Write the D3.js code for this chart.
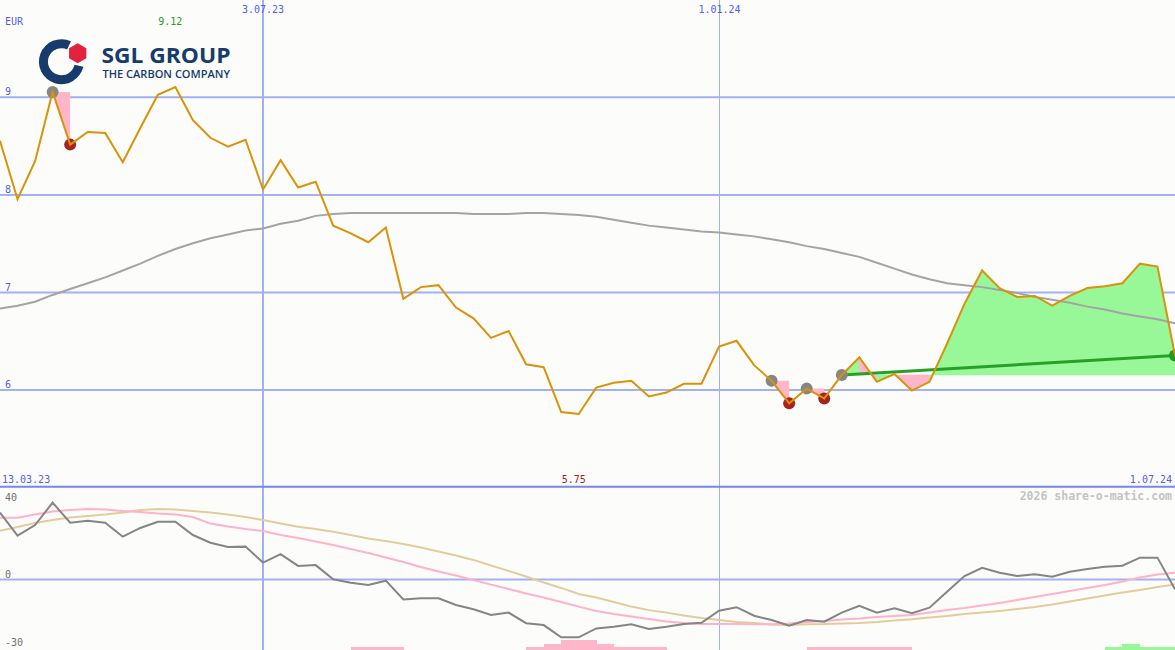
<!DOCTYPE html>
<html><head><meta charset="utf-8">
<script src="https://cdn.jsdelivr.net/npm/d3@7"></script>
<style>html,body{margin:0;padding:0;background:#fcfdfa;overflow:hidden}svg{display:block}</style>
</head><body><svg id="c" width="1175" height="650"></svg>
<script>
// ---------- data ----------
const startDate = "2023-03-20";
const endDate = "2024-07-01";
const currency = "EUR";
const price = [8.55,7.95,8.34,9.05,8.51,8.64,8.63,8.33,8.68,9.02,
 9.10,8.76,8.58,8.49,8.56,8.05,8.35,8.07,8.13,7.68,
 7.60,7.51,7.66,6.93,7.05,7.07,6.84,6.73,6.53,6.60,
 6.26,6.23,5.77,5.75,6.02,6.07,6.09,5.93,5.97,6.06,
 6.06,6.44,6.50,6.25,6.09,5.86,6.01,5.91,6.15,6.33,
 6.08,6.16,5.99,6.08,6.47,6.88,7.22,7.04,6.95,6.96,
 6.86,6.96,7.04,7.06,7.09,7.29,7.26,6.35];
const movingAvg = [6.83,6.86,6.90,6.97,7.03,7.09,7.15,7.22,7.29,7.37,
 7.44,7.50,7.55,7.59,7.63,7.65,7.70,7.73,7.78,7.80,
 7.81,7.81,7.81,7.81,7.81,7.81,7.81,7.80,7.80,7.80,
 7.81,7.81,7.80,7.79,7.77,7.74,7.71,7.68,7.66,7.64,
 7.62,7.61,7.59,7.57,7.54,7.51,7.47,7.44,7.40,7.36,
 7.30,7.24,7.18,7.13,7.09,7.07,7.05,7.02,6.99,6.95,
 6.92,6.89,6.85,6.82,6.78,6.75,6.72,6.68];
const momentum = [32.0,20.9,26.0,36.8,27.1,28.1,27.1,20.4,24.6,27.6,
 27.6,21.2,17.5,15.4,15.6,7.9,12.0,6.3,6.7,-0.1,
 -1.8,-2.9,-0.8,-9.9,-9.3,-9.3,-12.5,-14.6,-17.3,-16.2,
 -21.3,-22.2,-28.1,-28.1,-23.8,-23.0,-21.8,-24.1,-23.0,-21.7,
 -21.1,-15.3,-13.6,-17.7,-19.8,-22.5,-19.8,-20.6,-16.2,-12.9,
 -16.2,-14.1,-16.5,-13.8,-6.1,1.4,5.4,3.0,1.4,2.3,
 1.1,3.5,4.8,5.9,6.4,10.3,10.3,-5.0];
const momAvgFast = [29.5,29.5,31.1,32.5,33.3,33.7,33.5,32.8,32.3,31.6,
 31.1,29.9,26.7,25.3,24.1,23.1,21.2,19.8,18.1,16.4,
 14.5,12.5,10.4,8.2,5.8,3.6,1.7,-0.5,-2.7,-4.8,
 -7.0,-8.9,-11.1,-13.3,-15.4,-16.9,-18.1,-19.3,-20.5,-21.2,
 -21.7,-21.7,-21.7,-21.8,-21.8,-21.4,-20.7,-20.2,-19.5,-19.0,
 -18.3,-17.8,-17.3,-16.1,-14.9,-14.0,-12.8,-11.6,-10.1,-8.7,
 -7.2,-5.8,-4.3,-2.9,-1.2,0.7,2.2,3.0];
const momAvgSlow = [23.3,25.1,27.0,28.4,29.6,30.4,31.1,32.0,33.3,33.7,
 33.5,32.8,32.0,31.1,29.9,28.4,26.7,25.2,24.1,22.8,
 21.2,19.5,18.3,16.9,15.2,13.3,11.3,9.2,6.5,3.9,
 1.2,-1.7,-4.3,-7.2,-8.9,-11.1,-13.3,-15.0,-16.2,-17.6,
 -18.8,-19.8,-20.7,-21.2,-21.9,-22.2,-21.8,-21.7,-21.4,-21.2,
 -20.7,-20.0,-19.4,-18.6,-17.8,-16.9,-16.2,-15.4,-14.5,-13.5,
 -12.3,-10.8,-9.4,-8.0,-6.5,-5.3,-3.9,-2.6];
const signalBars = [0,0,0,0,0,0,0,0,0,0,
 0,0,0,0,0,0,0,0,0,0,
 -1,-1,-1,0,0,0,0,0,0,0,
 -1,-2,-3,-3,-2,-1,-1,-1,0,0,
 0,0,0,0,0,0,-1,-1,-1,-1,
 -1,-1,0,0,0,0,0,0,0,0,
 0,0,0,1,2,1,1,0];
const peakIdx = [3,44,46,48];
const lowIdx = [4,45,47];
const trendIdx = [48,67];
const trendVals = [6.15,6.35];
const priceTicks = [9,8,7,6];
const priceTickLabels = ["9","8","7","6"];
const dateTicks = ["2023-07-03","2024-01-01"];
const dateTickLabels = ["3.07.23","1.01.24"];
const rangeLabels = ["13.03.23","1.07.24"];
const highLabel = "9.12", highIdx = 10;
const lowLabel = "5.75", lowLabelIdx = 33;
const momTicks = [40,0,-30];
const momTickLabels = ["40","0","-30"];
const watermark = "2026 share-o-matic.com";
const logoTitle = "SGL GROUP", logoSub = "THE CARBON COMPANY";

// ---------- layout ----------
const W = 1175, H = 650;
const svg = d3.select('#c');
const parse = d3.timeParse('%Y-%m-%d');
const dates = d3.timeMonday.range(parse(startDate), d3.timeDay.offset(parse(endDate), 1));
const x = d3.scaleTime().domain([parse(startDate), parse(endDate)]).range([0, W]);
const y = d3.scaleLinear().domain([6, 9]).range([389.6, 96.8]);
const ym = d3.scaleLinear().domain([-30, 40]).range([641.25, 496]);
const yb = d3.scaleLinear().domain([0, 3]).range([650, 640.4]);
const FONT = '"DejaVu Sans Mono", monospace';
const BLUE = '#4f5ff0', GRID = '#a3b1f1';
const PINK = '#ffb6c9', GREEN = '#98f898';

svg.append('rect').attr('width', W).attr('height', H).attr('fill', '#fcfdfa');

// horizontal price grid via axis
const gy = svg.append('g').call(d3.axisRight(y).tickValues(priceTicks).tickSize(W).tickFormat((d, i) => priceTickLabels[i]));
gy.select('.domain').remove();
gy.selectAll('line').attr('stroke', GRID).attr('stroke-width', 2);
gy.selectAll('text').attr('x', 5).attr('y', -2).attr('dy', 0).attr('text-anchor', 'start')
  .attr('fill', BLUE).style('font-family', FONT).style('font-size', '10px');

// momentum grid (only 0 line drawn)
const gm = svg.append('g').call(d3.axisRight(ym).tickValues(momTicks).tickSize(W).tickFormat((d, i) => momTickLabels[i]));
gm.select('.domain').remove();
gm.selectAll('line').attr('stroke', d => d === 0 ? GRID : 'none').attr('stroke-width', 2);
gm.selectAll('text').attr('x', 5).attr('y', d => d === 0 ? -2 : 4).attr('dy', 0).attr('text-anchor', 'start')
  .attr('fill', '#707070').style('font-family', FONT).style('font-size', '10px');

// vertical date grid via axis
const gx = svg.append('g').call(d3.axisBottom(x).tickValues(dateTicks.map(parse)).tickSize(H).tickFormat((d, i) => dateTickLabels[i]));
gx.select('.domain').remove();
gx.selectAll('line').attr('stroke', GRID).attr('stroke-width', (d, i) => i === 0 ? 2 : 1);
gx.selectAll('.tick').attr('transform', (d, i) => `translate(${Math.round(x(d)) + (i === 0 ? 0 : 0.5)},0)`);
gx.selectAll('text').attr('y', 13).attr('dy', 0).attr('fill', BLUE).style('font-family', FONT).style('font-size', '10px');

// panel separator
svg.append('line').attr('x1', 0).attr('x2', W).attr('y1', 486.7).attr('y2', 486.7).attr('stroke', '#7886ec').attr('stroke-width', 2);

// bottom signal bars
const barG = svg.append('g').attr('shape-rendering', 'crispEdges');
signalBars.forEach((v, i) => {
  if (!v) return;
  const n = Math.abs(v);
  for (let k = 1; k <= n; k++) {
    barG.append('rect').attr('x', x(dates[i])).attr('width', x(dates[i + 1]) - x(dates[i]) + 0.5)
      .attr('y', yb(k)).attr('height', yb(k - 1) - yb(k) + 0.5)
      .attr('fill', v > 0 ? GREEN : PINK);
  }
});

// momentum lines
const lm = (arr) => d3.line().x((d, i) => x(dates[i])).y(d => ym(d))(arr);
svg.append('path').attr('d', lm(momAvgSlow)).attr('fill', 'none').attr('stroke', '#e3cc9c').attr('stroke-width', 2);
svg.append('path').attr('d', lm(momAvgFast)).attr('fill', 'none').attr('stroke', '#ffb2c8').attr('stroke-width', 2);
svg.append('path').attr('d', lm(momentum)).attr('fill', 'none').attr('stroke', '#858585').attr('stroke-width', 2);

// drawdown fills (peak -> low)
const fillG = svg.append('g');
peakIdx.forEach((p, k) => {
  const l = lowIdx[k];
  if (l === undefined) return;
  fillG.append('path').attr('d', d3.line()([[x(dates[p]), y(price[p])], [x(dates[l]), y(price[p])], [x(dates[l]), y(price[l])]]) + 'Z')
    .attr('fill', PINK);
});
// trend fills between price and baseline, merged into runs of equal colour
const base = price[trendIdx[0]];
const segUp = d3.range(trendIdx[0], trendIdx[1]).map(i => price[i + 1] >= base);
let runStart = 0;
for (let s = 1; s <= segUp.length; s++) {
  if (s === segUp.length || segUp[s] !== segUp[runStart]) {
    const i0 = trendIdx[0] + runStart, i1 = trendIdx[0] + s;
    const pts = d3.range(i0, i1 + 1).map(i => [x(dates[i]), y(price[i])]);
    pts.push([x(dates[i1]), y(base)], [x(dates[i0]), y(base)]);
    fillG.append('path').attr('d', d3.line()(pts) + 'Z').attr('fill', segUp[runStart] ? GREEN : PINK)
      .attr('stroke', segUp[runStart] ? GREEN : PINK).attr('stroke-width', 0.6);
    runStart = s;
  }
}

// moving average
const lp = (arr) => d3.line().x((d, i) => x(dates[i])).y(d => y(d))(arr);
svg.append('path').attr('d', lp(movingAvg)).attr('fill', 'none').attr('stroke', '#a4a4a4').attr('stroke-width', 2);

// trend line
svg.append('path').attr('d', d3.line()(trendIdx.map((t, k) => [x(dates[t]), y(trendVals[k])])))
  .attr('stroke', '#27a027').attr('stroke-width', 3).attr('fill', 'none');

// markers
peakIdx.forEach(i => svg.append('circle').attr('cx', x(dates[i])).attr('cy', y(price[i])).attr('r', 6).attr('fill', '#868686'));
lowIdx.forEach(i => svg.append('circle').attr('cx', x(dates[i])).attr('cy', y(price[i])).attr('r', 6).attr('fill', '#a82222'));
svg.append('circle').attr('cx', x(dates[trendIdx[1]])).attr('cy', y(trendVals[1])).attr('r', 6).attr('fill', '#239a23');

// price line
svg.append('path').attr('d', lp(price)).attr('fill', 'none').attr('stroke', '#d9920a').attr('stroke-width', 2);

// texts
const txt = (t, xx, yy, col, anchor, extra) => {
  const e = svg.append('text').text(t).attr('x', xx).attr('y', yy).attr('fill', col)
    .attr('text-anchor', anchor || 'start').style('font-family', FONT).style('font-size', '10px');
  if (extra) extra(e);
  return e;
};
txt(currency, 5, 25, BLUE);
txt(highLabel, x(dates[highIdx]) - 5, 25, '#2c9a2c', 'middle');
txt(rangeLabels[0], 2, 483, BLUE);
txt(rangeLabels[1], 1172, 483, BLUE, 'end');
txt(lowLabel, x(dates[lowLabelIdx]) - 5, 483, '#a51c1c', 'middle');
txt(watermark, 1172, 500, '#c4c4c4', 'end', e => e.style('font-size', '11.5px').style('font-weight', 'bold'));

// logo
const logo = svg.append('g');
const NAVY = '#173b6c';
logo.append('path').attr('transform', 'translate(61.4,61.7)')
  .attr('d', d3.arc().innerRadius(13.5).outerRadius(22.5).startAngle(103 * Math.PI / 180).endAngle(385 * Math.PI / 180)())
  .attr('fill', NAVY);
const hexR = 10, hx = 77.7, hy = 53.3;
logo.append('path').attr('d', d3.line()(d3.range(6).map(k => {
  const a = (-90 + 60 * k) * Math.PI / 180; return [hx + hexR * Math.cos(a), hy + hexR * Math.sin(a)];
})) + 'Z').attr('fill', '#e2233d');
logo.append('text').text(logoTitle).attr('x', 101.5).attr('y', 63.3).attr('fill', NAVY)
  .attr('textLength', 129).attr('lengthAdjust', 'spacingAndGlyphs')
  .style('font-family', '"Open Sans", sans-serif').style('font-weight', 'bold').style('font-size', '22px');
logo.append('text').text(logoSub).attr('x', 102.5).attr('y', 77.5).attr('fill', NAVY)
  .attr('textLength', 127.5).attr('lengthAdjust', 'spacingAndGlyphs')
  .style('font-family', '"Open Sans", sans-serif').style('font-weight', '600').style('font-size', '11px');
</script></body></html>
